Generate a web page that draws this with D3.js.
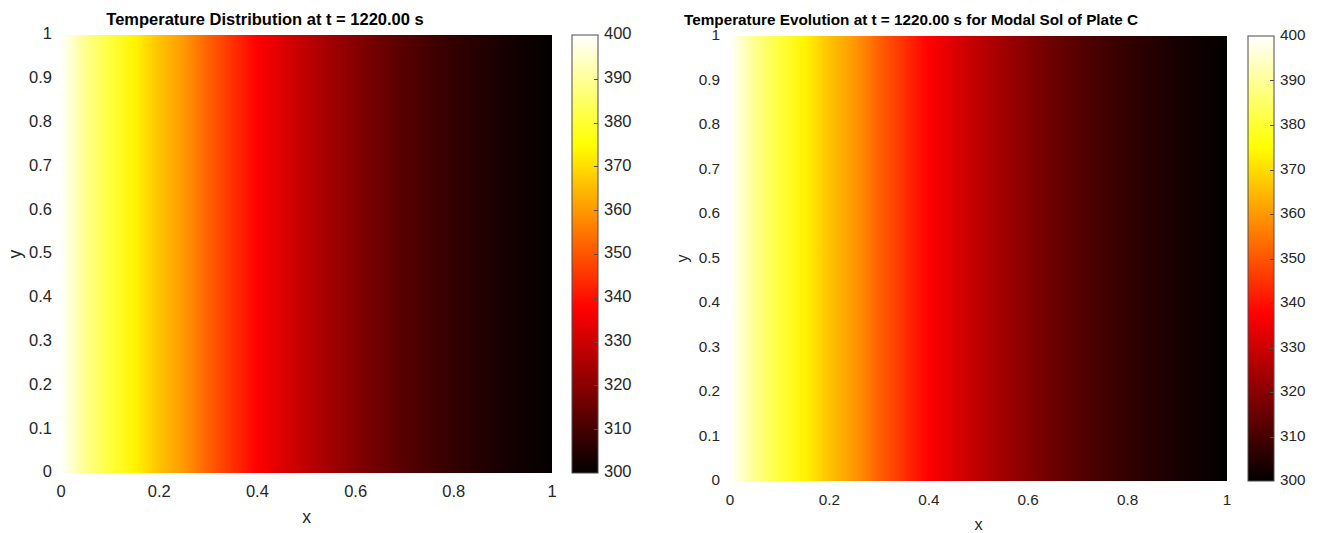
<!DOCTYPE html>
<html>
<head>
<meta charset="utf-8">
<script src="https://cdn.jsdelivr.net/npm/d3@7"></script>
<style>
  html, body { margin: 0; padding: 0; background: #fff; }
  svg { display: block; font-family: "Liberation Sans", Arial, sans-serif; }
</style>
</head>
<body>
<svg id="chart" width="1320" height="533"></svg>
<script>
// Plate temperature along x at t = 1220 s (uniform in y), in kelvin
const xPositions = [0, 0.05, 0.10, 0.15, 0.20, 0.25, 0.30, 0.35, 0.40, 0.45, 0.50,
                    0.55, 0.60, 0.65, 0.70, 0.75, 0.80, 0.85, 0.90, 0.95, 1.00];
const tempNumerical = [400.0, 389.0, 381.0, 373.5, 366.0, 360.0, 351.7, 344.6, 337.5, 332.5, 327.8,
                       323.5, 319.5, 315.6, 312.5, 309.7, 307.1, 305.0, 303.1, 301.5, 300.0];
const tempModal = [400.0, 389.0, 381.0, 373.5, 366.0, 360.0, 351.7, 344.6, 337.5, 332.5, 327.8,
                   323.5, 319.5, 315.6, 312.5, 309.7, 307.1, 305.0, 303.1, 301.5, 300.0];

// Tick labels
const xTicks = [0, 0.2, 0.4, 0.6, 0.8, 1];
const yTicks = [0, 0.1, 0.2, 0.3, 0.4, 0.5, 0.6, 0.7, 0.8, 0.9, 1];
const cbarTicks = [300, 310, 320, 330, 340, 350, 360, 370, 380, 390, 400];

const titles = [
  "Temperature Distribution at t = 1220.00 s",
  "Temperature Evolution at t = 1220.00 s for Modal Sol of Plate C"
];

// "hot" colormap: black -> red -> yellow -> white
const color = d3.scaleLinear()
  .domain([300, 337.5, 375, 400])
  .range(["#030000", "#ff0000", "#ffff00", "#ffffff"])
  .clamp(true);

const panels = [
  { temps: tempNumerical, title: titles[0], left: 61, right: 552, top: 35, bottom: 473,
    cbL: 572, cbR: 598, font: 16.5, titleFont: 16.5, titleX: 265, titleY: 25, xLabY: 523, yLabX: 16, tickPad: 9 },
  { temps: tempModal, title: titles[1], left: 730, right: 1227, top: 36, bottom: 481,
    cbL: 1248, cbR: 1274, font: 15.3, titleFont: 15.3, titleX: 911, titleY: 25, xLabY: 530, yLabX: 684, tickPad: 10 }
];

const svg = d3.select("#chart");
const defs = svg.append("defs");

panels.forEach((p, i) => {
  const x = d3.scaleLinear().domain([0, 1]).range([p.left, p.right]);
  const y = d3.scaleLinear().domain([0, 1]).range([p.bottom, p.top]);
  const c = d3.scaleLinear().domain([300, 400]).range([p.bottom, p.top]);

  // Horizontal gradient for the field, one stop per sampled x position
  const gid = "field" + i;
  const grad = defs.append("linearGradient").attr("id", gid)
    .attr("gradientUnits", "userSpaceOnUse")
    .attr("x1", x(0)).attr("x2", x(1)).attr("y1", 0).attr("y2", 0);
  grad.selectAll("stop").data(xPositions).join("stop")
    .attr("offset", d => (x(d) - x(0)) / (x(1) - x(0)))
    .attr("stop-color", (d, k) => color(p.temps[k]));

  svg.append("rect")
    .attr("x", x(0)).attr("y", y(1))
    .attr("width", x(1) - x(0)).attr("height", y(0) - y(1))
    .attr("fill", `url(#${gid})`);

  // Axis tick labels
  const g = svg.append("g").attr("font-size", p.font).attr("fill", "#262626");
  g.selectAll(".xt").data(xTicks).join("text")
    .attr("x", d => x(d)).attr("y", p.bottom + 20)
    .attr("text-anchor", "middle").attr("dominant-baseline", "middle")
    .text(d => d3.format("")(d));
  g.selectAll(".yt").data(yTicks).join("text")
    .attr("x", p.left - p.tickPad).attr("y", d => y(d))
    .attr("text-anchor", "end").attr("dominant-baseline", "middle")
    .text(d => d3.format("")(d));

  // Axis labels
  g.append("text").attr("x", (p.left + p.right) / 2).attr("y", p.xLabY)
    .attr("text-anchor", "middle").attr("font-size", p.font + 1).text("x");
  g.append("text")
    .attr("transform", `translate(${p.yLabX},${(p.top + p.bottom) / 2}) rotate(-90)`)
    .attr("text-anchor", "middle").attr("dominant-baseline", "middle")
    .attr("font-size", p.font + 1).text("y");

  // Title
  svg.append("text").attr("x", p.titleX).attr("y", p.titleY)
    .attr("text-anchor", "middle").attr("font-weight", "bold")
    .attr("font-size", p.titleFont).attr("fill", "#000").text(p.title);

  // Colorbar
  const cid = "cbar" + i;
  const cg = defs.append("linearGradient").attr("id", cid)
    .attr("gradientUnits", "userSpaceOnUse")
    .attr("x1", 0).attr("x2", 0).attr("y1", c(300)).attr("y2", c(400));
  const stops = d3.range(300, 400.01, 2.5);
  cg.selectAll("stop").data(stops).join("stop")
    .attr("offset", d => (d - 300) / 100)
    .attr("stop-color", d => color(d));

  svg.append("rect")
    .attr("x", p.cbL).attr("y", c(400))
    .attr("width", p.cbR - p.cbL).attr("height", c(300) - c(400))
    .attr("fill", `url(#${cid})`)
    .attr("stroke", "#4d4d4d").attr("stroke-width", 1);

  svg.append("g").selectAll("line").data(cbarTicks.slice(1, -1)).join("line")
    .attr("x1", p.cbR - 4).attr("x2", p.cbR)
    .attr("y1", d => Math.round(c(d)) + 0.5).attr("y2", d => Math.round(c(d)) + 0.5)
    .attr("stroke", "#4d4d4d").attr("stroke-width", 1);

  g.selectAll(".ct").data(cbarTicks).join("text")
    .attr("x", p.cbR + 6).attr("y", d => c(d))
    .attr("text-anchor", "start").attr("dominant-baseline", "middle")
    .text(d => d);
});
</script>
</body>
</html>
